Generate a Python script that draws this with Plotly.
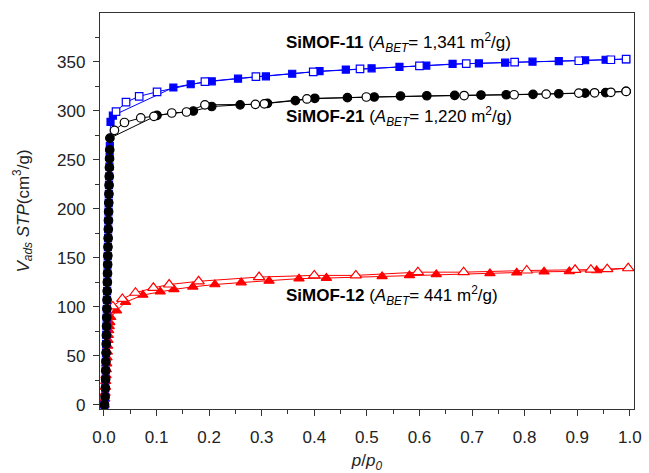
import plotly.graph_objects as go

# ---------------- data ----------------
# SiMOF-11 (blue squares)
s11_ads_p = [0.0010, 0.0020, 0.0026, 0.0030, 0.0033, 0.0036, 0.0039, 0.0042, 0.0045, 0.0048,
             0.0051, 0.0054, 0.0057, 0.0060, 0.0063, 0.0066, 0.0069, 0.0072, 0.0075, 0.0078,
             0.0081, 0.0084, 0.0087, 0.0090, 0.0093, 0.0096, 0.0100, 0.0104, 0.0108, 0.0112,
             0.0125, 0.017, 0.132, 0.165, 0.205, 0.255, 0.308, 0.358, 0.410,
             0.460, 0.509, 0.562, 0.613, 0.663, 0.713, 0.763, 0.815, 0.865, 0.915, 0.954, 0.993]
s11_ads_v = [0, 8, 17, 26, 35, 44, 53, 62, 71, 80,
             89, 98, 107, 116, 125, 134, 143, 152, 161, 170,
             179, 188, 197, 206, 215, 224, 233, 243, 253, 264,
             288.7, 295, 323.7, 327, 330, 332.7, 335, 337.7, 340.3,
             342, 343.3, 344.7, 346, 347.7, 348.3, 349, 350, 350.7, 351.5, 352, 352.7]
s11_des_p = [0.993, 0.964, 0.903, 0.781, 0.689, 0.600, 0.487, 0.398, 0.289, 0.192, 0.101, 0.067, 0.042, 0.023]
s11_des_v = [352.7, 352, 351, 349.5, 348, 345.7, 342.7, 339.7, 334.7, 329.7, 319.3, 314.7, 308.7, 299]

# SiMOF-21 (black circles)
s21_ads_p = [0.0012, 0.0022, 0.0028, 0.0032, 0.0035, 0.0038, 0.0041, 0.0044, 0.0047, 0.0050,
             0.0053, 0.0056, 0.0059, 0.0062, 0.0065, 0.0068, 0.0071, 0.0074, 0.0077, 0.0080,
             0.0083, 0.0086, 0.0089, 0.0092, 0.0095, 0.0098, 0.0101, 0.0104, 0.0107, 0.0110,
             0.0113, 0.101, 0.170, 0.205, 0.259, 0.311, 0.364, 0.401,
             0.463, 0.514, 0.564, 0.614, 0.667, 0.717, 0.765, 0.816, 0.865, 0.915, 0.954, 0.993]
s21_ads_v = [0, 8, 17, 26, 35, 44, 53, 62, 71, 80,
             89, 98, 107, 116, 125, 134, 143, 152, 161, 170,
             179, 188, 197, 206, 215, 224, 233, 242, 251, 260,
             272, 295.3, 299.7, 304.3, 306, 307.5, 310.3, 312.7,
             313.3, 314, 315, 315.3, 315.7, 316, 316.3, 316.7, 317.3, 318, 318.5, 319.7]
s21_des_p = [0.993, 0.964, 0.933, 0.903, 0.841, 0.780, 0.685, 0.499, 0.386, 0.305, 0.288, 0.192,
             0.157, 0.129, 0.095, 0.070, 0.039, 0.020]
s21_des_v = [319.7, 318.8, 318.3, 318, 317, 316.3, 315.5, 314, 312, 307, 306.5, 306,
             298.7, 297.7, 294.3, 292.7, 288, 280]

# SiMOF-12 (red triangles)
s12_ads_p = [0.0005, 0.0015, 0.0022, 0.0028, 0.0034, 0.0040, 0.0046, 0.0052, 0.0058, 0.0064,
             0.0070, 0.0076, 0.0082, 0.0090, 0.0100, 0.0112, 0.013, 0.024, 0.041, 0.074,
             0.107, 0.133, 0.169, 0.211, 0.261, 0.314, 0.371, 0.423, 0.529, 0.581,
             0.632, 0.734, 0.785, 0.837, 0.885, 0.937, 0.997]
s12_ads_v = [0, 6, 12, 18, 24, 30, 36, 42, 48, 54,
             60, 66, 71, 76, 80, 84, 89.3, 96, 104.7, 112,
             115.3, 117.7, 120.3, 122.7, 124.7, 126.3, 128.7, 129.3, 131, 132,
             133, 134, 134.7, 135.7, 136, 137, 139.3]
s12_des_p = [0.997, 0.957, 0.926, 0.896, 0.804, 0.684, 0.597, 0.479, 0.400, 0.295, 0.180,
             0.124, 0.094, 0.060, 0.035, 0.017]
s12_des_v = [139.3, 138.3, 137.8, 137.7, 137, 135.3, 135.3, 132, 132, 130.3, 126,
             122.7, 119.3, 114.3, 108, 100.3]

x_ticks = [0.0, 0.1, 0.2, 0.3, 0.4, 0.5, 0.6, 0.7, 0.8, 0.9, 1.0]
y_ticks = [0, 50, 100, 150, 200, 250, 300, 350]

labels = [
    ("<b>SiMOF-11</b> (<i>A<sub>BET</sub></i>= 1,341 m<sup>2</sup>/g)", 0.343, 370),
    ("<b>SiMOF-21</b> (<i>A<sub>BET</sub></i>= 1,220 m<sup>2</sup>/g)", 0.343, 294),
    ("<b>SiMOF-12</b> (<i>A<sub>BET</sub></i>= 441 m<sup>2</sup>/g)", 0.343, 112),
]

BLUE = "#0000FF"
RED = "#FF0000"
BLACK = "#000000"
FONT = "Liberation Sans, Arial"

fig = go.Figure()

def add(px, py, color, symbol, size, filled):
    fig.add_trace(go.Scatter(
        x=px, y=py, mode="lines+markers",
        line=dict(color=color, width=1),
        marker=dict(symbol=symbol, size=size,
                    color=color if filled else "white",
                    line=dict(color=color, width=1.2)),
        showlegend=False, hoverinfo="skip"))

add(s12_ads_p, s12_ads_v, RED, "triangle-up", 9, True)
add(s12_des_p, s12_des_v, RED, "triangle-up", 10, False)
add(s11_ads_p, s11_ads_v, BLUE, "square", 7, True)
add(s11_des_p, s11_des_v, BLUE, "square", 7.5, False)
add(s21_ads_p, s21_ads_v, BLACK, "circle", 8.5, True)
add(s21_des_p, s21_des_v, BLACK, "circle", 8.5, False)

for txt, lx, ly in labels:
    fig.add_annotation(x=lx, y=ly, text=txt, showarrow=False, xanchor="left", yanchor="middle",
                       font=dict(family=FONT, size=17, color="black"))

axis_common = dict(
    showline=True, linecolor="#333333", linewidth=1.3, mirror=True,
    ticks="outside", ticklen=6, tickwidth=1.2, tickcolor="#333333",
    showgrid=False, zeroline=False,
    tickfont=dict(family=FONT, size=17, color="#222222"),
)

fig.update_xaxes(
    range=[-0.0075, 1.008], tickvals=x_ticks, ticktext=[f"{v:.1f}" for v in x_ticks],
    ticklabelstandoff=6,
    minor=dict(ticks="outside", ticklen=4, tickwidth=1.2, tickcolor="#333333", dtick=0.05, tick0=0, showgrid=False),
    title=dict(text="<i>p</i>/<i>p<sub>0</sub></i>", font=dict(family=FONT, size=17, color="#222222"), standoff=8),
    **axis_common)
fig.update_yaxes(
    range=[-4.3, 399.7], tickvals=y_ticks, ticktext=[str(v) for v in y_ticks],
    ticklabelstandoff=4,
    minor=dict(ticks="outside", ticklen=4, tickwidth=1.2, tickcolor="#333333", dtick=25, tick0=0, showgrid=False),
    title=dict(text="<i>V<sub>ads</sub> STP</i>(cm<sup>3</sup>/g)", font=dict(family=FONT, size=17, color="#222222"), standoff=23),
    **axis_common)

fig.update_layout(
    width=649, height=473,
    margin=dict(l=100, r=7, t=13, b=56),
    plot_bgcolor="white", paper_bgcolor="white",
)

fig.write_html("out.html")
